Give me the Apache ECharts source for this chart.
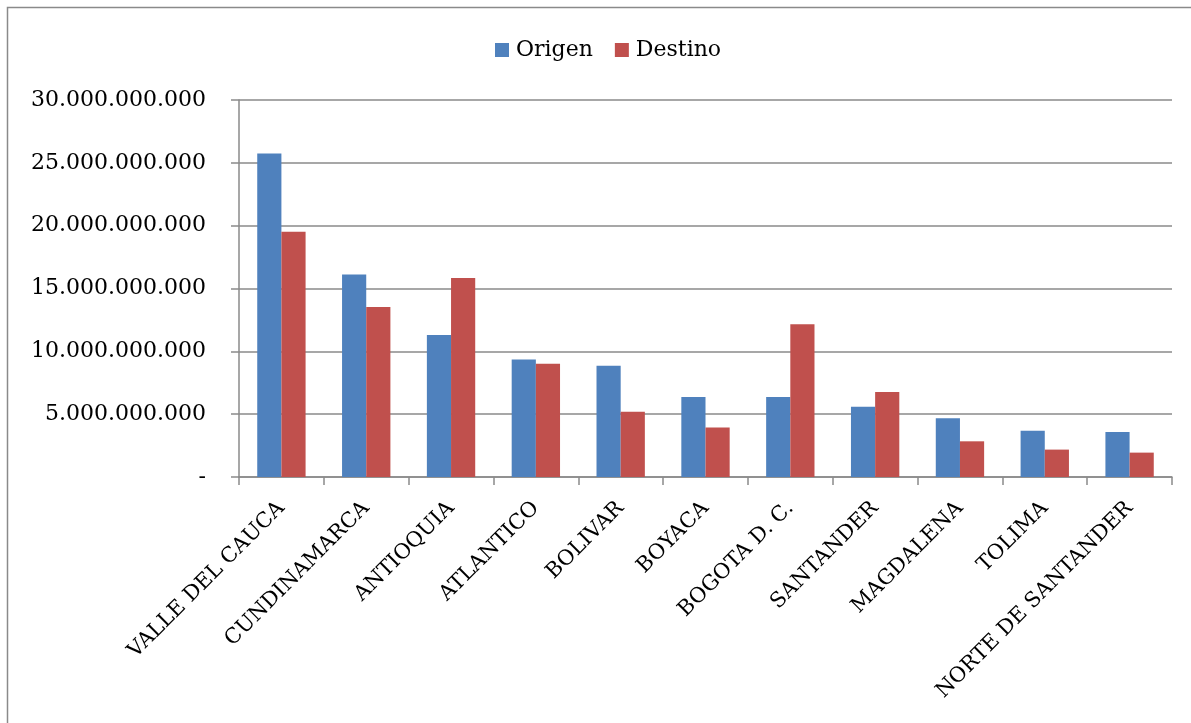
<!DOCTYPE html>
<html>
<head>
<meta charset="utf-8">
<script src="https://cdn.jsdelivr.net/npm/echarts@6/dist/echarts.min.js"></script>
<style>
  html, body { margin: 0; padding: 0; background: #fff; }
  #chart { width: 1191px; height: 723px; }
</style>
</head>
<body>
<div id="chart"></div>
<script>
// Departments, ordered as on the axis
const departamentos = [
  'VALLE DEL CAUCA', 'CUNDINAMARCA', 'ANTIOQUIA', 'ATLANTICO', 'BOLIVAR',
  'BOYACA', 'BOGOTA D. C.', 'SANTANDER', 'MAGDALENA', 'TOLIMA', 'NORTE DE SANTANDER'
];

// Values per department
const origen = [
  25750000000, 16120000000, 11300000000, 9360000000, 8860000000,
  6370000000, 6370000000, 5600000000, 4670000000, 3690000000, 3580000000
];
const destino = [
  19520000000, 13520000000, 15830000000, 9010000000, 5200000000,
  3930000000, 12150000000, 6760000000, 2840000000, 2180000000, 1940000000
];

// Value axis range
const yMin = 0;
const yMax = 30000000000;
const yStep = 5000000000;

const serif = '"DejaVu Serif", "Liberation Serif", serif';
const gray = '#8a8a8a';

function formatMiles(v) {
  if (v === 0) return '-';
  return String(Math.round(v)).replace(/\B(?=(\d{3})+(?!\d))/g, '.');
}

const chart = echarts.init(document.getElementById('chart'));
chart.setOption({
  animation: false,
  backgroundColor: '#ffffff',
  graphic: [{
    type: 'rect',
    shape: { x: 7.5, y: 7.5, width: 1200, height: 730 },
    style: { fill: 'none', stroke: gray, lineWidth: 1.5 },
    silent: true
  }],
  legend: {
    top: 34,
    left: 490,
    itemWidth: 14,
    itemHeight: 14,
    itemGap: 22,
    icon: 'rect',
    textStyle: { fontFamily: serif, fontSize: 22, color: '#000', padding: [0, 0, 0, 2] },
    data: ['Origen', 'Destino']
  },
  grid: { left: 239, right: 19, top: 100, bottom: 246, containLabel: false },
  xAxis: {
    type: 'category',
    data: departamentos,
    axisLine: { lineStyle: { color: gray, width: 1.5 } },
    axisTick: { show: true, length: 8, lineStyle: { color: gray, width: 1.5 } },
    axisLabel: {
      rotate: 45,
      interval: 0,
      margin: 28,
      fontFamily: serif,
      fontSize: 21,
      color: '#000'
    }
  },
  yAxis: {
    type: 'value',
    min: yMin,
    max: yMax,
    interval: yStep,
    axisLine: { show: true, lineStyle: { color: gray, width: 1.5 } },
    axisTick: { show: true, length: 8, lineStyle: { color: gray, width: 1.5 } },
    splitLine: { lineStyle: { color: gray, width: 1.5 } },
    axisLabel: {
      margin: 33,
      fontFamily: serif,
      fontSize: 22,
      color: '#000',
      formatter: formatMiles
    }
  },
  series: [
    {
      name: 'Origen',
      type: 'bar',
      data: origen,
      barGap: '0%',
      barCategoryGap: '43%',
      itemStyle: { color: '#4F81BD' }
    },
    {
      name: 'Destino',
      type: 'bar',
      data: destino,
      barGap: '0%',
      barCategoryGap: '43%',
      itemStyle: { color: '#C0504D' }
    }
  ]
});
</script>
</body>
</html>
